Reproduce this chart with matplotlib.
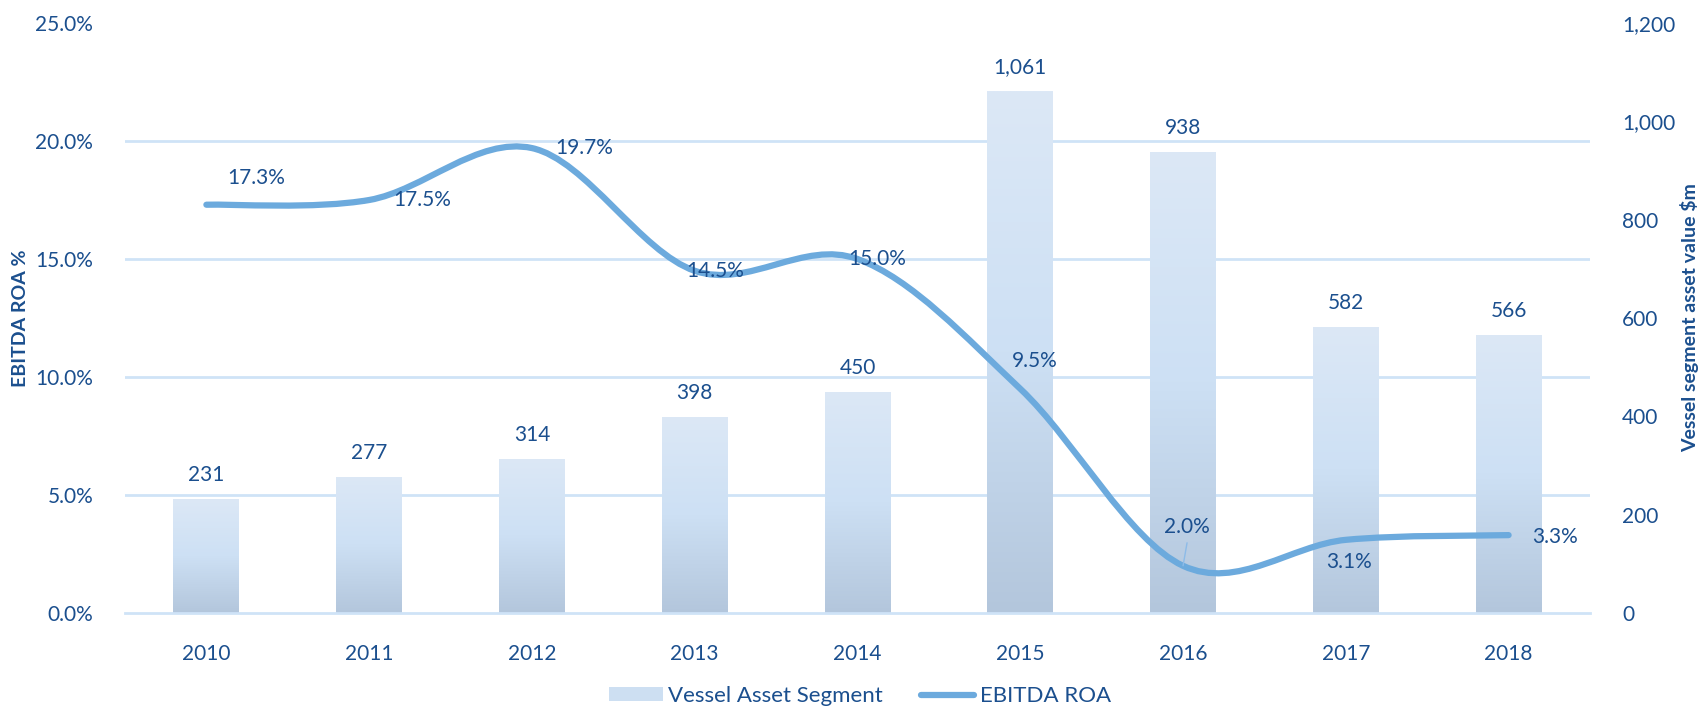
import numpy as np
import matplotlib
matplotlib.use("Agg")
import matplotlib.pyplot as plt
from matplotlib.path import Path
from matplotlib.patches import PathPatch, Patch
from matplotlib.lines import Line2D
from matplotlib.colors import LinearSegmentedColormap
from matplotlib.ticker import FuncFormatter, MultipleLocator, FixedLocator

plt.rcParams['font.family'] = ['Lato', 'DejaVu Sans']

years = ["2010", "2011", "2012", "2013", "2014", "2015", "2016", "2017", "2018"]
asset_value = [231, 277, 314, 398, 450, 1061, 938, 582, 566]
ebitda_roa = [17.3, 17.5, 19.7, 14.5, 15.0, 9.5, 2.0, 3.1, 3.3]

# label offsets (pixels) for the ROA labels
roa_offsets = [(50, 27), (53, 0), (52, 0), (20, 0), (20, 0), (14, 28), (4, 39), (3, -22), (46, -2)]

TXT = "#1b4f8e"
GRID = "#cfe3f7"
LINE = "#6caadd"

fig = plt.figure(figsize=(17.04, 7.07), dpi=100)
ax = fig.add_axes([125/1704, 1-613/707, (1590-125)/1704, (613-23)/707])
ax2 = ax.twinx()

x = np.arange(len(years))

# bars on ax (right-hand scale), line on ax2 (left-hand scale)
bars = ax.bar(x, asset_value, width=0.405, color="none", edgecolor="none", zorder=2)
cmap = LinearSegmentedColormap.from_list("bar", ["#b3c6dc", "#cde0f4", "#dce8f6"])
grad = np.linspace(0, 1, 256).reshape(-1, 1)
for b in bars:
    x0, y0 = b.get_x(), b.get_y()
    im = ax.imshow(grad, cmap=cmap, origin="lower", aspect="auto",
                   extent=[x0, x0+b.get_width(), y0, y0+b.get_height()], zorder=2)
    im.set_clip_path(b)
ax.set_xlim(-0.5, len(years)-0.5)
ax.set_ylim(0, 1200)

for xi, v in zip(x, asset_value):
    ax.annotate(f"{v:,}", (xi, v), xytext=(0, 24), textcoords="offset pixels",
                ha="center", va="center", fontsize=15, color=TXT)

ax.yaxis.set_major_locator(MultipleLocator(200))
ax.yaxis.set_major_formatter(FuncFormatter(lambda v, p: f"{v:,.0f}"))
# gridlines follow the left (%) axis, drawn behind the bars
ax.yaxis.set_minor_locator(FixedLocator(np.linspace(0, 1200, 6)))
ax.yaxis.tick_right()
ax.grid(axis="y", which="minor", color=GRID, linewidth=2)
ax.grid(axis="y", which="major", visible=False)
ax.set_axisbelow(True)
ax.set_xticks(x)
ax.set_xticklabels(years)

# smoothed line through the points (Catmull-Rom as cubic bezier)
pts = np.column_stack([x, ebitda_roa]).astype(float)
ext = np.vstack([pts[0], pts, pts[-1]])
verts = [tuple(pts[0])]
codes = [Path.MOVETO]
for i in range(len(pts)-1):
    p0, p1, p2, p3 = ext[i], ext[i+1], ext[i+2], ext[i+3]
    c1 = p1 + (p2 - p0) / 6
    c2 = p2 - (p3 - p1) / 6
    verts += [tuple(c1), tuple(c2), tuple(p2)]
    codes += [Path.CURVE4] * 3
ax2.add_patch(PathPatch(Path(verts, codes), facecolor="none", edgecolor=LINE,
                        linewidth=4.5, capstyle="round", joinstyle="round", zorder=3))
ax2.set_ylim(0, 25)
ax2.yaxis.set_major_locator(MultipleLocator(5))
ax2.yaxis.set_major_formatter(FuncFormatter(lambda v, p: f"{v:.1f}%"))
ax2.yaxis.tick_left()

for xi, v, off in zip(x, ebitda_roa, roa_offsets):
    ax2.annotate(f"{v:.1f}%", (xi, v), xytext=off, textcoords="offset pixels",
                 ha="center", va="center", fontsize=15, color=TXT, zorder=4)
# leader line for 2016 label
ax2.annotate("", (6, 2.0), xytext=(4, 23), textcoords="offset pixels",
             arrowprops=dict(arrowstyle="-", color="#8dbbe8", linewidth=1,
                             shrinkA=0, shrinkB=0))

for a in (ax, ax2):
    for s in a.spines.values():
        s.set_visible(False)
    a.tick_params(axis="both", which="both", length=0, labelsize=15, labelcolor=TXT)
ax.tick_params(axis="x", pad=22)
ax.tick_params(axis="y", pad=23)
ax2.tick_params(axis="y", pad=23)
ax.spines["bottom"].set_visible(True)
ax.spines["bottom"].set_color(GRID)
ax.spines["bottom"].set_linewidth(2)

fig.text(21/1704, 1-318/707, "EBITDA ROA %", rotation=90, ha="center", va="center",
         fontsize=14, fontweight="bold", color=TXT)
fig.text(1690/1704, 1-318/707, "Vessel segment asset value $m", rotation=90,
         ha="center", va="center", fontsize=14, fontweight="bold", color=TXT)

handles = [Patch(facecolor="#cddff2", edgecolor="none"),
           Line2D([0], [0], color=LINE, linewidth=4.5, solid_capstyle="round")]
fig.legend(handles, ["Vessel Asset Segment", "EBITDA ROA"], loc="center",
           bbox_to_anchor=(860/1704, 1-696/707), ncol=2, frameon=False,
           fontsize=16, labelcolor=TXT, handlelength=2.4, handleheight=0.6,
           handletextpad=0.25, columnspacing=1.7)

fig.savefig("out.png", dpi=100)
plt.close(fig)
